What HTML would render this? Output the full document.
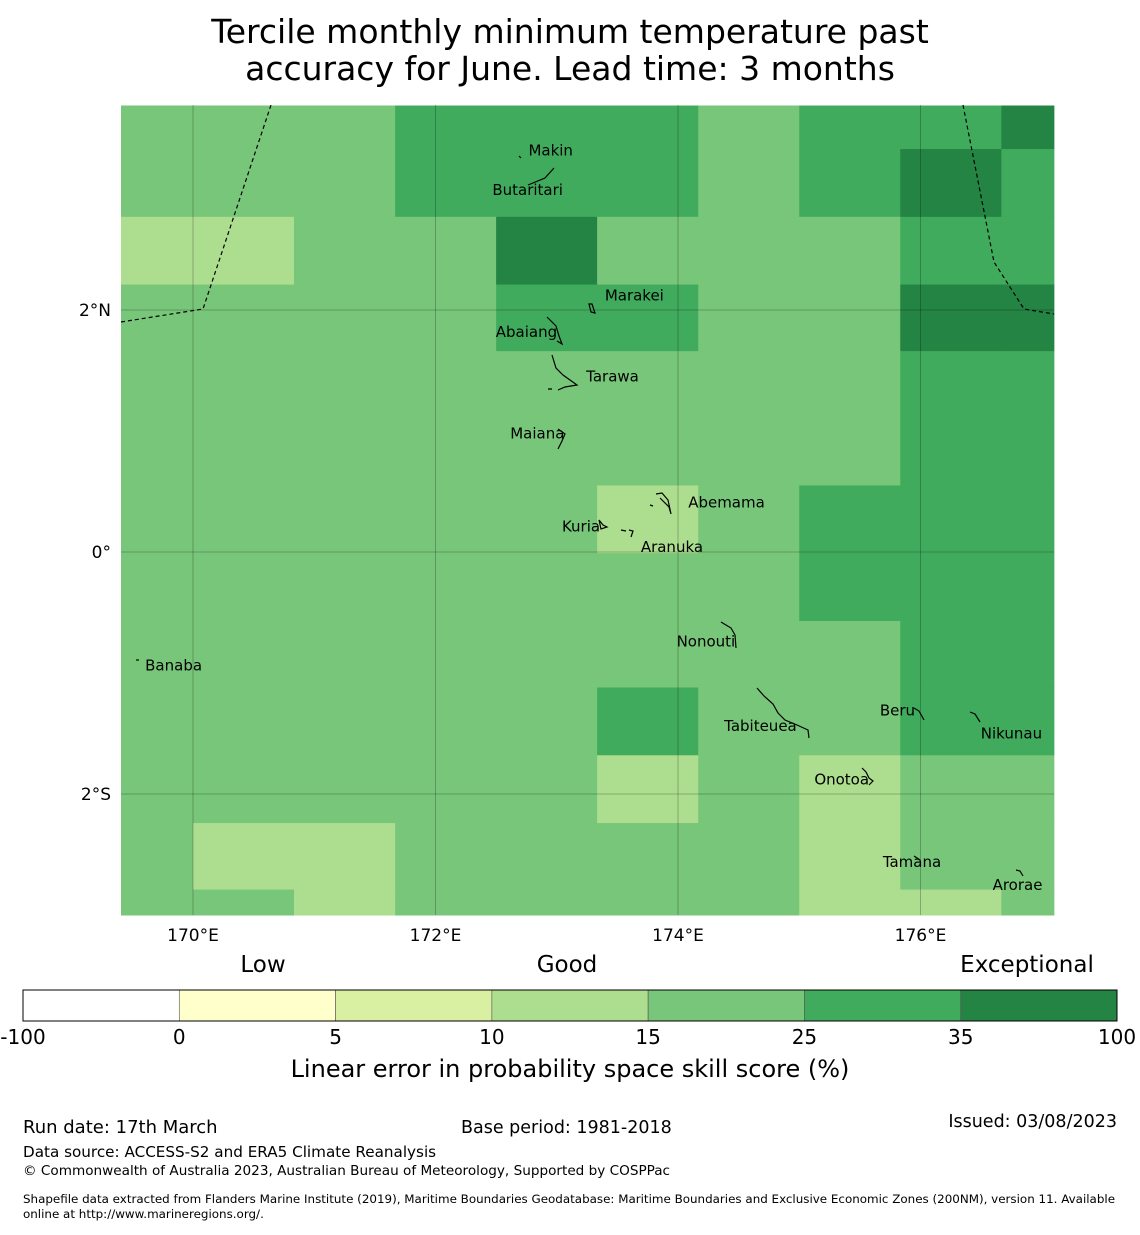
<!DOCTYPE html>
<html><head><meta charset="utf-8">
<style>
body{margin:0;background:#fff;width:1140px;height:1230px;overflow:hidden;font-family:"Liberation Sans","DejaVu Sans",sans-serif;}
svg text{font-family:"DejaVu Sans","Liberation Sans",sans-serif;}
</style></head>
<body>
<svg id="chart" width="1140" height="1230" xmlns="http://www.w3.org/2000/svg">
<text x="570" y="43" font-size="33" text-anchor="middle">Tercile monthly minimum temperature past</text>
<text x="570" y="80" font-size="33" text-anchor="middle">accuracy for June. Lead time: 3 months</text>
<g id="cells"></g>
<g id="grid"></g>
<g id="overlay">
<polyline points="121,322 203,309 271,105" fill="none" stroke="#000" stroke-width="1.2" stroke-dasharray="4,3"/>
<polyline points="963,105 994,262 1024,309 1054,314" fill="none" stroke="#000" stroke-width="1.2" stroke-dasharray="4,3"/>
<g fill="none" stroke="#000" stroke-width="1.2">
<path d="M528,185 L545,178 L554,168 M519,156 L521,158"/>
<path d="M589,304 L591,312 L595,313 L592,304 Z"/>
<path d="M547,317 L556,326 L559,336 L562,344 L557,341"/>
<path d="M552,355 L556,368 L563,375 L577,385 L565,387 L558,390 M548,389 L552,389"/>
<path d="M558,429 L565,434 L562,441 L558,449"/>
<path d="M656,494 L662,493 L668,500 L671,514 L669,507 L660,498 M650,505 L653,506"/>
<path d="M599,520 L603,525 L607,527 L601,529 Z"/>
<path d="M621,530 L626,531 M629,530 L633,531 L631,537"/>
<path d="M721,622 L731,628 L735,635 L736,648"/>
<path d="M136,660 L139,660"/>
<path d="M757,688 L764,696 L773,704 L778,713 L785,720 L797,725 L808,730 L809,738"/>
<path d="M914,708 L919,711 L924,720"/>
<path d="M970,712 L975,714 L980,722"/>
<path d="M862,768 L866,772 L869,778 L873,781 L869,785"/>
<path d="M914,856 L920,860"/>
<path d="M1016,870 L1020,871 L1023,876"/>
</g>
</g>
<g id="islands"></g>
<g id="axes"></g>
<g id="cbar"></g>
<text x="263" y="972" font-size="23" text-anchor="middle">Low</text>
<text x="567" y="972" font-size="23" text-anchor="middle">Good</text>
<text x="1027" y="972" font-size="23" text-anchor="middle">Exceptional</text>
<text x="570" y="1077" font-size="24" text-anchor="middle">Linear error in probability space skill score (%)</text>
<text x="23" y="1133" font-size="18">Run date: 17th March</text>
<text x="461" y="1133" font-size="17.5">Base period: 1981-2018</text>
<text x="1117" y="1127" font-size="17.5" text-anchor="end">Issued: 03/08/2023</text>
<text x="23" y="1157" font-size="15.2">Data source: ACCESS-S2 and ERA5 Climate Reanalysis</text>
<text x="23" y="1175" font-size="13.6">© Commonwealth of Australia 2023, Australian Bureau of Meteorology, Supported by COSPPac</text>
<text x="23" y="1203" font-size="11.9">Shapefile data extracted from Flanders Marine Institute (2019), Maritime Boundaries Geodatabase: Maritime Boundaries and Exclusive Economic Zones (200NM), version 11. Available</text>
<text x="23" y="1218" font-size="11.9">online at http://www.marineregions.org/.</text>
</svg>
<script>
// colour class index per cell (row by row, north to south): 1=10-15, 2=15-25, 3=25-35, 4=35-100
const row0=[2,2,2,3,3,3,2,3,3,4];
const row1=[2,2,2,3,3,3,2,3,4,3];
const row2=[1,1,2,2,4,2,2,2,3,3];
const row3=[2,2,2,2,3,3,2,2,4,4];
const row4=[2,2,2,2,2,2,2,2,3,3];
const row5=[2,2,2,2,2,2,2,2,3,3];
const row6=[2,2,2,2,2,1,2,3,3,3];
const row7=[2,2,2,2,2,2,2,3,3,3];
const row8=[2,2,2,2,2,2,2,2,3,3];
const row9=[2,2,2,2,2,3,2,2,3,3];
const row10=[2,2,2,2,2,1,2,1,2,2];
const row11=[2,1,1,2,2,2,2,1,2,2];
const row12=[2,2,1,2,2,2,2,1,1,2];
const rows=[row0,row1,row2,row3,row4,row5,row6,row7,row8,row9,row10,row11,row12];
const lonEdges=[169.4,170.0,170.833,171.667,172.5,173.333,174.167,175.0,175.833,176.667,177.1];
const latEdges=[3.69,3.33,2.77,2.21,1.66,1.10,0.55,-0.01,-0.57,-1.12,-1.68,-2.24,-2.79,-3.0];
const colorbarBounds=["-100","0","5","10","15","25","35","100"];
const colorbarColors=["#ffffff","#ffffcc","#d9f0a3","#addd8e","#78c679","#41ab5d","#238443"];
const palette=["#ffffff","#addd8e","#78c679","#41ab5d","#238443"];
const lonTicks=[170,172,174,176];
const lonLabels=["170°E","172°E","174°E","176°E"];
const latTicks=[2,0,-2];
const latLabels=["2°N","0°","2°S"];
const islandNames=["Makin","Butaritari","Marakei","Abaiang","Tarawa","Maiana","Abemama","Kuria","Aranuka","Nonouti","Banaba","Beru","Tabiteuea","Nikunau","Onotoa","Tamana","Arorae"];
const islandLon=[172.95,172.76,173.64,172.75,173.46,172.84,174.40,173.2,173.95,174.23,169.84,175.81,174.68,176.75,175.35,175.93,176.80];
const islandLat=[3.32,2.99,2.12,1.82,1.45,0.98,0.41,0.21,0.04,-0.74,-0.94,-1.31,-1.44,-1.5,-1.88,-2.56,-2.75];

const NS="http://www.w3.org/2000/svg";
const X0=121,X1=1054,Y0=105,Y1=915;
function xs(lon){return 193+(lon-170)*121.25;}
function ys(lat){return 552-lat*121;}
function mk(tag,attrs,parent){const e=document.createElementNS(NS,tag);for(const k in attrs)e.setAttribute(k,attrs[k]);parent.appendChild(e);return e;}

const cells=document.getElementById('cells');
rows.forEach((r,i)=>r.forEach((v,j)=>{
  const x=Math.max(X0,xs(lonEdges[j])),x2=Math.min(X1,xs(lonEdges[j+1]));
  const y=Math.max(Y0,ys(latEdges[i])),y2=Math.min(Y1,ys(latEdges[i+1]));
  const e=mk('rect',{x:x,y:y,width:x2-x+0.5,height:y2-y+0.5,fill:palette[v]},cells);
  
  
}));

const grid=document.getElementById('grid');
const axes=document.getElementById('axes');
lonTicks.forEach((t,i)=>{
  const l=mk('line',{x1:xs(t),x2:xs(t),y1:Y0,y2:Y1,stroke:'#000','stroke-opacity':0.3,'stroke-width':0.8},grid);
  
  
  const tx=mk('text',{x:xs(t),y:941,'font-size':17,'text-anchor':'middle'},axes);
  tx.textContent=lonLabels[i];
  
  
});
latTicks.forEach((t,i)=>{
  const l=mk('line',{x1:X0,x2:X1,y1:ys(t),y2:ys(t),stroke:'#000','stroke-opacity':0.3,'stroke-width':0.8},grid);
  
  
  const tx=mk('text',{x:111,y:ys(t)+6,'font-size':17,'text-anchor':'end'},axes);
  tx.textContent=latLabels[i];
  
  
});

const isl=document.getElementById('islands');
islandNames.forEach((n,i)=>{
  const x=xs(islandLon[i]),y=ys(islandLat[i]);
  const tx=mk('text',{x:x,y:y+5,'font-size':15,'text-anchor':'middle'},isl);
  tx.textContent=n;
  
  
});

const cb=document.getElementById('cbar');
const cbX=23,cbW=1094,cbY=990,cbH=31,seg=cbW/colorbarColors.length;
colorbarColors.forEach((c,i)=>{
  const r=mk('rect',{x:cbX+i*seg,y:cbY,width:seg,height:cbH,fill:c,stroke:'#555','stroke-width':0.6},cb);
  
  
});
mk('rect',{x:cbX,y:cbY,width:cbW,height:cbH,fill:'none',stroke:'#000','stroke-width':1},cb);
colorbarBounds.forEach((b,i)=>{
  const tx=mk('text',{x:cbX+i*seg,y:1044,'font-size':20,'text-anchor':'middle'},cb);
  tx.textContent=b;
  
  
});
</script>
</body></html>
